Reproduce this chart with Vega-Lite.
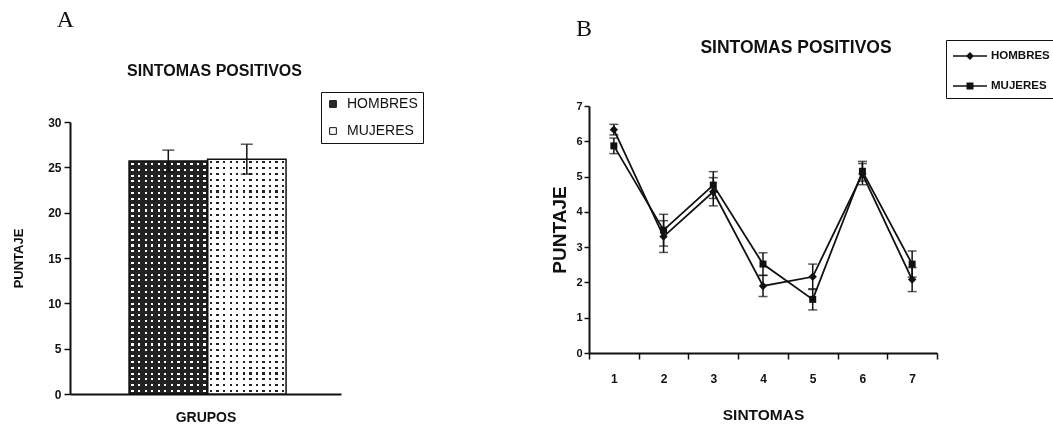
{
  "$schema": "https://vega.github.io/schema/vega-lite/v6.json",
  "background": "white",
  "padding": {"left": 12, "top": 7, "right": 0, "bottom": 0},
  "spacing": 126,
  "resolve": {"scale": {"fill": "independent", "shape": "independent"}, "legend": {"fill": "independent", "shape": "independent"}},
  "config": {
    "view": {"stroke": null},
    "font": "Liberation Sans",
    "axis": {"grid": false, "domainColor": "#111", "tickColor": "#111", "labelColor": "#111", "titleColor": "#111", "domainWidth": 2, "tickWidth": 1.5},
    "title": {"color": "#111"},
    "legend": {"labelColor": "#111"}
  },
  "hconcat": [
    {
      "title": {"text": "A", "anchor": "start", "font": "Liberation Serif", "fontSize": 24, "fontWeight": "normal", "dx": 44, "offset": 31},
      "resolve": {"scale": {"fill": "independent"}, "legend": {"fill": "independent"}},
      "vconcat": [
        {
          "width": 271,
          "height": 288,
          "title": {"text": "SINTOMAS POSITIVOS", "font": "Liberation Sans", "fontSize": 16, "fontWeight": "bold", "anchor": "middle", "offset": 13, "dx": 9},
          "data": {"values": [
            {"grupo": "GRUPOS", "sexo": "HOMBRES", "media": 25.7, "inferior": 24.5, "superior": 26.9},
            {"grupo": "GRUPOS", "sexo": "MUJERES", "media": 25.9, "inferior": 24.25, "superior": 27.55}
          ]},
          "encoding": {
            "x": {"field": "grupo", "type": "nominal", "scale": {"paddingInner": 0, "paddingOuter": 0.363, "align": 0.518},
                  "axis": {"title": "GRUPOS", "labels": false, "ticks": false, "titleFontSize": 14, "titleFontWeight": "bold", "titlePadding": 16}},
            "xOffset": {"field": "sexo", "type": "nominal", "scale": {"domain": ["HOMBRES", "MUJERES"], "paddingInner": 0, "paddingOuter": 0}},
            "y": {"field": "media", "type": "quantitative", "title": "PUNTAJE", "scale": {"domain": [0, 30], "nice": false, "range": [288, 16]},
                  "axis": {"values": [0, 5, 10, 15, 20, 25, 30], "tickSize": 6, "labelFontSize": 12, "labelFontWeight": "bold", "labelPadding": 3, "titleFontSize": 13, "titleFontWeight": "bold", "titlePadding": 22}}
          },
          "layer": [
            {
              "transform": [{"filter": "datum.sexo === 'HOMBRES'"}],
              "mark": {"type": "bar", "fill": {"gradient": "linear", "x1": 0, "y1": 0, "x2": 0, "y2": 1, "stops": [
                {"offset":0,"color":"#222"},
                {"offset":0.008,"color":"#222"},{"offset":0.008,"color":"#fff"},{"offset":0.017,"color":"#fff"},{"offset":0.017,"color":"#222"},
                {"offset":0.033,"color":"#222"},{"offset":0.033,"color":"#fff"},{"offset":0.042,"color":"#fff"},{"offset":0.042,"color":"#222"},
                {"offset":0.058,"color":"#222"},{"offset":0.058,"color":"#fff"},{"offset":0.067,"color":"#fff"},{"offset":0.067,"color":"#222"},
                {"offset":0.083,"color":"#222"},{"offset":0.083,"color":"#fff"},{"offset":0.092,"color":"#fff"},{"offset":0.092,"color":"#222"},
                {"offset":0.108,"color":"#222"},{"offset":0.108,"color":"#fff"},{"offset":0.117,"color":"#fff"},{"offset":0.117,"color":"#222"},
                {"offset":0.133,"color":"#222"},{"offset":0.133,"color":"#fff"},{"offset":0.142,"color":"#fff"},{"offset":0.142,"color":"#222"},
                {"offset":0.158,"color":"#222"},{"offset":0.158,"color":"#fff"},{"offset":0.167,"color":"#fff"},{"offset":0.167,"color":"#222"},
                {"offset":0.183,"color":"#222"},{"offset":0.183,"color":"#fff"},{"offset":0.192,"color":"#fff"},{"offset":0.192,"color":"#222"},
                {"offset":0.208,"color":"#222"},{"offset":0.208,"color":"#fff"},{"offset":0.217,"color":"#fff"},{"offset":0.217,"color":"#222"},
                {"offset":0.233,"color":"#222"},{"offset":0.233,"color":"#fff"},{"offset":0.242,"color":"#fff"},{"offset":0.242,"color":"#222"},
                {"offset":0.258,"color":"#222"},{"offset":0.258,"color":"#fff"},{"offset":0.267,"color":"#fff"},{"offset":0.267,"color":"#222"},
                {"offset":0.283,"color":"#222"},{"offset":0.283,"color":"#fff"},{"offset":0.292,"color":"#fff"},{"offset":0.292,"color":"#222"},
                {"offset":0.308,"color":"#222"},{"offset":0.308,"color":"#fff"},{"offset":0.317,"color":"#fff"},{"offset":0.317,"color":"#222"},
                {"offset":0.333,"color":"#222"},{"offset":0.333,"color":"#fff"},{"offset":0.342,"color":"#fff"},{"offset":0.342,"color":"#222"},
                {"offset":0.358,"color":"#222"},{"offset":0.358,"color":"#fff"},{"offset":0.367,"color":"#fff"},{"offset":0.367,"color":"#222"},
                {"offset":0.383,"color":"#222"},{"offset":0.383,"color":"#fff"},{"offset":0.392,"color":"#fff"},{"offset":0.392,"color":"#222"},
                {"offset":0.408,"color":"#222"},{"offset":0.408,"color":"#fff"},{"offset":0.417,"color":"#fff"},{"offset":0.417,"color":"#222"},
                {"offset":0.433,"color":"#222"},{"offset":0.433,"color":"#fff"},{"offset":0.442,"color":"#fff"},{"offset":0.442,"color":"#222"},
                {"offset":0.458,"color":"#222"},{"offset":0.458,"color":"#fff"},{"offset":0.467,"color":"#fff"},{"offset":0.467,"color":"#222"},
                {"offset":0.483,"color":"#222"},{"offset":0.483,"color":"#fff"},{"offset":0.492,"color":"#fff"},{"offset":0.492,"color":"#222"},
                {"offset":0.508,"color":"#222"},{"offset":0.508,"color":"#fff"},{"offset":0.517,"color":"#fff"},{"offset":0.517,"color":"#222"},
                {"offset":0.533,"color":"#222"},{"offset":0.533,"color":"#fff"},{"offset":0.542,"color":"#fff"},{"offset":0.542,"color":"#222"},
                {"offset":0.558,"color":"#222"},{"offset":0.558,"color":"#fff"},{"offset":0.567,"color":"#fff"},{"offset":0.567,"color":"#222"},
                {"offset":0.583,"color":"#222"},{"offset":0.583,"color":"#fff"},{"offset":0.592,"color":"#fff"},{"offset":0.592,"color":"#222"},
                {"offset":0.608,"color":"#222"},{"offset":0.608,"color":"#fff"},{"offset":0.617,"color":"#fff"},{"offset":0.617,"color":"#222"},
                {"offset":0.633,"color":"#222"},{"offset":0.633,"color":"#fff"},{"offset":0.642,"color":"#fff"},{"offset":0.642,"color":"#222"},
                {"offset":0.658,"color":"#222"},{"offset":0.658,"color":"#fff"},{"offset":0.667,"color":"#fff"},{"offset":0.667,"color":"#222"},
                {"offset":0.683,"color":"#222"},{"offset":0.683,"color":"#fff"},{"offset":0.692,"color":"#fff"},{"offset":0.692,"color":"#222"},
                {"offset":0.708,"color":"#222"},{"offset":0.708,"color":"#fff"},{"offset":0.717,"color":"#fff"},{"offset":0.717,"color":"#222"},
                {"offset":0.733,"color":"#222"},{"offset":0.733,"color":"#fff"},{"offset":0.742,"color":"#fff"},{"offset":0.742,"color":"#222"},
                {"offset":0.758,"color":"#222"},{"offset":0.758,"color":"#fff"},{"offset":0.767,"color":"#fff"},{"offset":0.767,"color":"#222"},
                {"offset":0.783,"color":"#222"},{"offset":0.783,"color":"#fff"},{"offset":0.792,"color":"#fff"},{"offset":0.792,"color":"#222"},
                {"offset":0.808,"color":"#222"},{"offset":0.808,"color":"#fff"},{"offset":0.817,"color":"#fff"},{"offset":0.817,"color":"#222"},
                {"offset":0.833,"color":"#222"},{"offset":0.833,"color":"#fff"},{"offset":0.842,"color":"#fff"},{"offset":0.842,"color":"#222"},
                {"offset":0.858,"color":"#222"},{"offset":0.858,"color":"#fff"},{"offset":0.867,"color":"#fff"},{"offset":0.867,"color":"#222"},
                {"offset":0.883,"color":"#222"},{"offset":0.883,"color":"#fff"},{"offset":0.892,"color":"#fff"},{"offset":0.892,"color":"#222"},
                {"offset":0.908,"color":"#222"},{"offset":0.908,"color":"#fff"},{"offset":0.917,"color":"#fff"},{"offset":0.917,"color":"#222"},
                {"offset":0.933,"color":"#222"},{"offset":0.933,"color":"#fff"},{"offset":0.942,"color":"#fff"},{"offset":0.942,"color":"#222"},
                {"offset":0.958,"color":"#222"},{"offset":0.958,"color":"#fff"},{"offset":0.967,"color":"#fff"},{"offset":0.967,"color":"#222"},
                {"offset":0.983,"color":"#222"},{"offset":0.983,"color":"#fff"},{"offset":0.992,"color":"#fff"},{"offset":0.992,"color":"#222"},
                {"offset":1,"color":"#222"}
              ]}}
            },
            {
              "transform": [{"filter": "datum.sexo === 'HOMBRES'"}],
              "mark": {"type": "bar", "blend": "darken", "fill": {"gradient": "linear", "x1": 0, "y1": 0, "x2": 1, "y2": 0, "stops": [
                {"offset":0,"color":"#222"},
                {"offset":0.030,"color":"#222"},{"offset":0.030,"color":"#fff"},{"offset":0.060,"color":"#fff"},{"offset":0.060,"color":"#222"},
                {"offset":0.113,"color":"#222"},{"offset":0.113,"color":"#fff"},{"offset":0.143,"color":"#fff"},{"offset":0.143,"color":"#222"},
                {"offset":0.197,"color":"#222"},{"offset":0.197,"color":"#fff"},{"offset":0.227,"color":"#fff"},{"offset":0.227,"color":"#222"},
                {"offset":0.280,"color":"#222"},{"offset":0.280,"color":"#fff"},{"offset":0.310,"color":"#fff"},{"offset":0.310,"color":"#222"},
                {"offset":0.363,"color":"#222"},{"offset":0.363,"color":"#fff"},{"offset":0.393,"color":"#fff"},{"offset":0.393,"color":"#222"},
                {"offset":0.447,"color":"#222"},{"offset":0.447,"color":"#fff"},{"offset":0.477,"color":"#fff"},{"offset":0.477,"color":"#222"},
                {"offset":0.530,"color":"#222"},{"offset":0.530,"color":"#fff"},{"offset":0.560,"color":"#fff"},{"offset":0.560,"color":"#222"},
                {"offset":0.613,"color":"#222"},{"offset":0.613,"color":"#fff"},{"offset":0.643,"color":"#fff"},{"offset":0.643,"color":"#222"},
                {"offset":0.697,"color":"#222"},{"offset":0.697,"color":"#fff"},{"offset":0.727,"color":"#fff"},{"offset":0.727,"color":"#222"},
                {"offset":0.780,"color":"#222"},{"offset":0.780,"color":"#fff"},{"offset":0.810,"color":"#fff"},{"offset":0.810,"color":"#222"},
                {"offset":0.863,"color":"#222"},{"offset":0.863,"color":"#fff"},{"offset":0.893,"color":"#fff"},{"offset":0.893,"color":"#222"},
                {"offset":0.947,"color":"#222"},{"offset":0.947,"color":"#fff"},{"offset":0.977,"color":"#fff"},{"offset":0.977,"color":"#222"},
                {"offset":1,"color":"#222"}
              ]}}
            },
            {
              "transform": [{"filter": "datum.sexo === 'MUJERES'"}],
              "mark": {"type": "bar", "fill": {"gradient": "linear", "x1": 0, "y1": 0, "x2": 0, "y2": 1, "stops": [
                {"offset":0,"color":"#fff"},
                {"offset":0.008,"color":"#fff"},{"offset":0.008,"color":"#222"},{"offset":0.017,"color":"#222"},{"offset":0.017,"color":"#fff"},
                {"offset":0.033,"color":"#fff"},{"offset":0.033,"color":"#222"},{"offset":0.042,"color":"#222"},{"offset":0.042,"color":"#fff"},
                {"offset":0.058,"color":"#fff"},{"offset":0.058,"color":"#222"},{"offset":0.067,"color":"#222"},{"offset":0.067,"color":"#fff"},
                {"offset":0.083,"color":"#fff"},{"offset":0.083,"color":"#222"},{"offset":0.092,"color":"#222"},{"offset":0.092,"color":"#fff"},
                {"offset":0.108,"color":"#fff"},{"offset":0.108,"color":"#222"},{"offset":0.117,"color":"#222"},{"offset":0.117,"color":"#fff"},
                {"offset":0.133,"color":"#fff"},{"offset":0.133,"color":"#222"},{"offset":0.142,"color":"#222"},{"offset":0.142,"color":"#fff"},
                {"offset":0.158,"color":"#fff"},{"offset":0.158,"color":"#222"},{"offset":0.167,"color":"#222"},{"offset":0.167,"color":"#fff"},
                {"offset":0.183,"color":"#fff"},{"offset":0.183,"color":"#222"},{"offset":0.192,"color":"#222"},{"offset":0.192,"color":"#fff"},
                {"offset":0.208,"color":"#fff"},{"offset":0.208,"color":"#222"},{"offset":0.217,"color":"#222"},{"offset":0.217,"color":"#fff"},
                {"offset":0.233,"color":"#fff"},{"offset":0.233,"color":"#222"},{"offset":0.242,"color":"#222"},{"offset":0.242,"color":"#fff"},
                {"offset":0.258,"color":"#fff"},{"offset":0.258,"color":"#222"},{"offset":0.267,"color":"#222"},{"offset":0.267,"color":"#fff"},
                {"offset":0.283,"color":"#fff"},{"offset":0.283,"color":"#222"},{"offset":0.292,"color":"#222"},{"offset":0.292,"color":"#fff"},
                {"offset":0.308,"color":"#fff"},{"offset":0.308,"color":"#222"},{"offset":0.317,"color":"#222"},{"offset":0.317,"color":"#fff"},
                {"offset":0.333,"color":"#fff"},{"offset":0.333,"color":"#222"},{"offset":0.342,"color":"#222"},{"offset":0.342,"color":"#fff"},
                {"offset":0.358,"color":"#fff"},{"offset":0.358,"color":"#222"},{"offset":0.367,"color":"#222"},{"offset":0.367,"color":"#fff"},
                {"offset":0.383,"color":"#fff"},{"offset":0.383,"color":"#222"},{"offset":0.392,"color":"#222"},{"offset":0.392,"color":"#fff"},
                {"offset":0.408,"color":"#fff"},{"offset":0.408,"color":"#222"},{"offset":0.417,"color":"#222"},{"offset":0.417,"color":"#fff"},
                {"offset":0.433,"color":"#fff"},{"offset":0.433,"color":"#222"},{"offset":0.442,"color":"#222"},{"offset":0.442,"color":"#fff"},
                {"offset":0.458,"color":"#fff"},{"offset":0.458,"color":"#222"},{"offset":0.467,"color":"#222"},{"offset":0.467,"color":"#fff"},
                {"offset":0.483,"color":"#fff"},{"offset":0.483,"color":"#222"},{"offset":0.492,"color":"#222"},{"offset":0.492,"color":"#fff"},
                {"offset":0.508,"color":"#fff"},{"offset":0.508,"color":"#222"},{"offset":0.517,"color":"#222"},{"offset":0.517,"color":"#fff"},
                {"offset":0.533,"color":"#fff"},{"offset":0.533,"color":"#222"},{"offset":0.542,"color":"#222"},{"offset":0.542,"color":"#fff"},
                {"offset":0.558,"color":"#fff"},{"offset":0.558,"color":"#222"},{"offset":0.567,"color":"#222"},{"offset":0.567,"color":"#fff"},
                {"offset":0.583,"color":"#fff"},{"offset":0.583,"color":"#222"},{"offset":0.592,"color":"#222"},{"offset":0.592,"color":"#fff"},
                {"offset":0.608,"color":"#fff"},{"offset":0.608,"color":"#222"},{"offset":0.617,"color":"#222"},{"offset":0.617,"color":"#fff"},
                {"offset":0.633,"color":"#fff"},{"offset":0.633,"color":"#222"},{"offset":0.642,"color":"#222"},{"offset":0.642,"color":"#fff"},
                {"offset":0.658,"color":"#fff"},{"offset":0.658,"color":"#222"},{"offset":0.667,"color":"#222"},{"offset":0.667,"color":"#fff"},
                {"offset":0.683,"color":"#fff"},{"offset":0.683,"color":"#222"},{"offset":0.692,"color":"#222"},{"offset":0.692,"color":"#fff"},
                {"offset":0.708,"color":"#fff"},{"offset":0.708,"color":"#222"},{"offset":0.717,"color":"#222"},{"offset":0.717,"color":"#fff"},
                {"offset":0.733,"color":"#fff"},{"offset":0.733,"color":"#222"},{"offset":0.742,"color":"#222"},{"offset":0.742,"color":"#fff"},
                {"offset":0.758,"color":"#fff"},{"offset":0.758,"color":"#222"},{"offset":0.767,"color":"#222"},{"offset":0.767,"color":"#fff"},
                {"offset":0.783,"color":"#fff"},{"offset":0.783,"color":"#222"},{"offset":0.792,"color":"#222"},{"offset":0.792,"color":"#fff"},
                {"offset":0.808,"color":"#fff"},{"offset":0.808,"color":"#222"},{"offset":0.817,"color":"#222"},{"offset":0.817,"color":"#fff"},
                {"offset":0.833,"color":"#fff"},{"offset":0.833,"color":"#222"},{"offset":0.842,"color":"#222"},{"offset":0.842,"color":"#fff"},
                {"offset":0.858,"color":"#fff"},{"offset":0.858,"color":"#222"},{"offset":0.867,"color":"#222"},{"offset":0.867,"color":"#fff"},
                {"offset":0.883,"color":"#fff"},{"offset":0.883,"color":"#222"},{"offset":0.892,"color":"#222"},{"offset":0.892,"color":"#fff"},
                {"offset":0.908,"color":"#fff"},{"offset":0.908,"color":"#222"},{"offset":0.917,"color":"#222"},{"offset":0.917,"color":"#fff"},
                {"offset":0.933,"color":"#fff"},{"offset":0.933,"color":"#222"},{"offset":0.942,"color":"#222"},{"offset":0.942,"color":"#fff"},
                {"offset":0.958,"color":"#fff"},{"offset":0.958,"color":"#222"},{"offset":0.967,"color":"#222"},{"offset":0.967,"color":"#fff"},
                {"offset":0.983,"color":"#fff"},{"offset":0.983,"color":"#222"},{"offset":0.992,"color":"#222"},{"offset":0.992,"color":"#fff"},
                {"offset":1,"color":"#fff"}
              ]}}
            },
            {
              "transform": [{"filter": "datum.sexo === 'MUJERES'"}],
              "mark": {"type": "bar", "blend": "lighten", "fill": {"gradient": "linear", "x1": 0, "y1": 0, "x2": 1, "y2": 0, "stops": [
                {"offset":0,"color":"#fff"},
                {"offset":0.030,"color":"#fff"},{"offset":0.030,"color":"#222"},{"offset":0.060,"color":"#222"},{"offset":0.060,"color":"#fff"},
                {"offset":0.113,"color":"#fff"},{"offset":0.113,"color":"#222"},{"offset":0.143,"color":"#222"},{"offset":0.143,"color":"#fff"},
                {"offset":0.197,"color":"#fff"},{"offset":0.197,"color":"#222"},{"offset":0.227,"color":"#222"},{"offset":0.227,"color":"#fff"},
                {"offset":0.280,"color":"#fff"},{"offset":0.280,"color":"#222"},{"offset":0.310,"color":"#222"},{"offset":0.310,"color":"#fff"},
                {"offset":0.363,"color":"#fff"},{"offset":0.363,"color":"#222"},{"offset":0.393,"color":"#222"},{"offset":0.393,"color":"#fff"},
                {"offset":0.447,"color":"#fff"},{"offset":0.447,"color":"#222"},{"offset":0.477,"color":"#222"},{"offset":0.477,"color":"#fff"},
                {"offset":0.530,"color":"#fff"},{"offset":0.530,"color":"#222"},{"offset":0.560,"color":"#222"},{"offset":0.560,"color":"#fff"},
                {"offset":0.613,"color":"#fff"},{"offset":0.613,"color":"#222"},{"offset":0.643,"color":"#222"},{"offset":0.643,"color":"#fff"},
                {"offset":0.697,"color":"#fff"},{"offset":0.697,"color":"#222"},{"offset":0.727,"color":"#222"},{"offset":0.727,"color":"#fff"},
                {"offset":0.780,"color":"#fff"},{"offset":0.780,"color":"#222"},{"offset":0.810,"color":"#222"},{"offset":0.810,"color":"#fff"},
                {"offset":0.863,"color":"#fff"},{"offset":0.863,"color":"#222"},{"offset":0.893,"color":"#222"},{"offset":0.893,"color":"#fff"},
                {"offset":0.947,"color":"#fff"},{"offset":0.947,"color":"#222"},{"offset":0.977,"color":"#222"},{"offset":0.977,"color":"#fff"},
                {"offset":1,"color":"#fff"}
              ]}}
            },
            {
              "mark": {"type": "bar", "fillOpacity": 0, "stroke": "#111", "strokeWidth": 1.5},
              "encoding": {
                "fill": {"field": "sexo", "type": "nominal",
                  "scale": {"domain": ["HOMBRES", "MUJERES"], "range": ["#2a2a2a", "#ffffff"]},
                  "legend": {"orient": "none", "legendX": 251, "legendY": -14, "title": null, "strokeColor": "#111", "padding": 5,
                    "symbolType": "square", "symbolSize": 45, "symbolStrokeColor": "#111", "symbolStrokeWidth": 1,
                    "labelFont": "Liberation Sans", "labelFontSize": 14, "rowPadding": 13, "labelOffset": 7,
                    "encode": {"symbols": {"update": {"fillOpacity": {"value": 1}, "opacity": {"value": 1}, "stroke": {"value": "#111"}}}}}
                }
              }
            },
            {
              "mark": {"type": "rule", "color": "#111", "strokeWidth": 1.5},
              "encoding": {"y": {"field": "inferior", "type": "quantitative", "title": "PUNTAJE"}, "y2": {"field": "superior"}}
            },
            {
              "mark": {"type": "tick", "color": "#111", "size": 12, "thickness": 1.5},
              "encoding": {"y": {"field": "superior", "type": "quantitative", "title": "PUNTAJE"}}
            },
            {
              "mark": {"type": "tick", "color": "#111", "size": 12, "thickness": 1.5},
              "encoding": {"y": {"field": "inferior", "type": "quantitative", "title": "PUNTAJE"}}
            }
          ]
        }
      ]
    },
    {
      "title": {"text": "B", "anchor": "start", "font": "Liberation Serif", "fontSize": 24, "fontWeight": "normal", "dx": 25, "offset": -2},
      "resolve": {"scale": {"shape": "independent"}, "legend": {"shape": "independent"}},
      "vconcat": [
        {
          "width": 348,
          "height": 247,
          "title": {"text": "SINTOMAS POSITIVOS", "font": "Liberation Sans", "fontSize": 17.5, "fontWeight": "bold", "anchor": "middle", "offset": -17, "dx": 33},
          "data": {"values": [
            {"sintoma": 1, "sexo": "HOMBRES", "media": 6.33, "inferior": 6.18, "superior": 6.48},
            {"sintoma": 2, "sexo": "HOMBRES", "media": 3.30, "inferior": 2.85, "superior": 3.75},
            {"sintoma": 3, "sexo": "HOMBRES", "media": 4.57, "inferior": 4.17, "superior": 4.97},
            {"sintoma": 4, "sexo": "HOMBRES", "media": 1.90, "inferior": 1.60, "superior": 2.20},
            {"sintoma": 5, "sexo": "HOMBRES", "media": 2.16, "inferior": 1.80, "superior": 2.52},
            {"sintoma": 6, "sexo": "HOMBRES", "media": 5.07, "inferior": 4.77, "superior": 5.37},
            {"sintoma": 7, "sexo": "HOMBRES", "media": 2.08, "inferior": 1.74, "superior": 2.42},
            {"sintoma": 1, "sexo": "MUJERES", "media": 5.87, "inferior": 5.65, "superior": 6.09},
            {"sintoma": 2, "sexo": "MUJERES", "media": 3.48, "inferior": 3.03, "superior": 3.93},
            {"sintoma": 3, "sexo": "MUJERES", "media": 4.76, "inferior": 4.38, "superior": 5.14},
            {"sintoma": 4, "sexo": "MUJERES", "media": 2.52, "inferior": 2.20, "superior": 2.84},
            {"sintoma": 5, "sexo": "MUJERES", "media": 1.52, "inferior": 1.22, "superior": 1.82},
            {"sintoma": 6, "sexo": "MUJERES", "media": 5.15, "inferior": 4.87, "superior": 5.43},
            {"sintoma": 7, "sexo": "MUJERES", "media": 2.52, "inferior": 2.15, "superior": 2.89}
          ]},
          "encoding": {
            "x": {"field": "sintoma", "type": "ordinal", "scale": {"paddingInner": 0, "paddingOuter": 0},
                  "axis": {"title": "SINTOMAS", "labelAngle": 0, "tickBand": "extent", "tickSize": 6, "labelPadding": 14,
                           "labelFontSize": 12, "labelFontWeight": "bold",
                           "titleFontSize": 15.5, "titleFontWeight": "bold", "titlePadding": 23}},
            "y": {"field": "media", "type": "quantitative", "title": "PUNTAJE", "scale": {"domain": [0, 7], "nice": false},
                  "axis": {"values": [0, 1, 2, 3, 4, 5, 6, 7], "tickSize": 5,
                           "labelFontSize": 11, "labelFontWeight": "bold", "labelPadding": 2,
                           "titleFontSize": 19, "titleFontWeight": "bold", "titlePadding": 6}}
          },
          "layer": [
            {
              "mark": {"type": "line", "color": "#111", "strokeWidth": 1.8},
              "encoding": {"detail": {"field": "sexo"}}
            },
            {
              "mark": {"type": "rule", "color": "#111", "strokeWidth": 1.5},
              "encoding": {"y": {"field": "inferior", "type": "quantitative", "title": "PUNTAJE"}, "y2": {"field": "superior"}}
            },
            {
              "mark": {"type": "tick", "color": "#111", "size": 9, "thickness": 1.5},
              "encoding": {"y": {"field": "superior", "type": "quantitative", "title": "PUNTAJE"}}
            },
            {
              "mark": {"type": "tick", "color": "#111", "size": 9, "thickness": 1.5},
              "encoding": {"y": {"field": "inferior", "type": "quantitative", "title": "PUNTAJE"}}
            },
            {
              "transform": [{"filter": "datum.sexo === 'HOMBRES'"}],
              "mark": {"type": "point", "shape": "diamond", "filled": true, "color": "#111", "size": 70, "opacity": 1}
            },
            {
              "transform": [{"filter": "datum.sexo === 'MUJERES'"}],
              "mark": {"type": "point", "shape": "square", "filled": true, "color": "#111", "size": 49, "opacity": 1}
            },
            {
              "mark": {"type": "point", "filled": true, "color": "#111", "opacity": 0, "size": 400},
              "encoding": {
                "shape": {"field": "sexo", "type": "nominal",
                  "scale": {"domain": ["HOMBRES", "MUJERES"], "range": [
                    "M-0.9,-0.07L2.5,-0.07L2.5,0.07L-0.9,0.07ZM0.8,-0.4L1.2,0L0.8,0.4L0.4,0Z",
                    "M-0.9,-0.07L2.5,-0.07L2.5,0.07L-0.9,0.07ZM0.45,-0.35L1.15,-0.35L1.15,0.35L0.45,0.35Z"
                  ]},
                  "legend": {"orient": "none", "legendX": 357, "legendY": -66, "title": null, "strokeColor": "#111", "padding": 5,
                    "symbolSize": 400, "symbolFillColor": "#111", "symbolOffset": 0,
                    "labelFont": "Liberation Sans", "labelFontSize": 11.5, "labelFontWeight": "bold", "rowPadding": 12, "labelOffset": 18,
                    "encode": {"symbols": {"update": {"opacity": {"value": 1}, "fill": {"value": "#111"}, "fillOpacity": {"value": 1}, "size": {"value": 400}}}}}
                }
              }
            }
          ]
        }
      ]
    }
  ]
}
